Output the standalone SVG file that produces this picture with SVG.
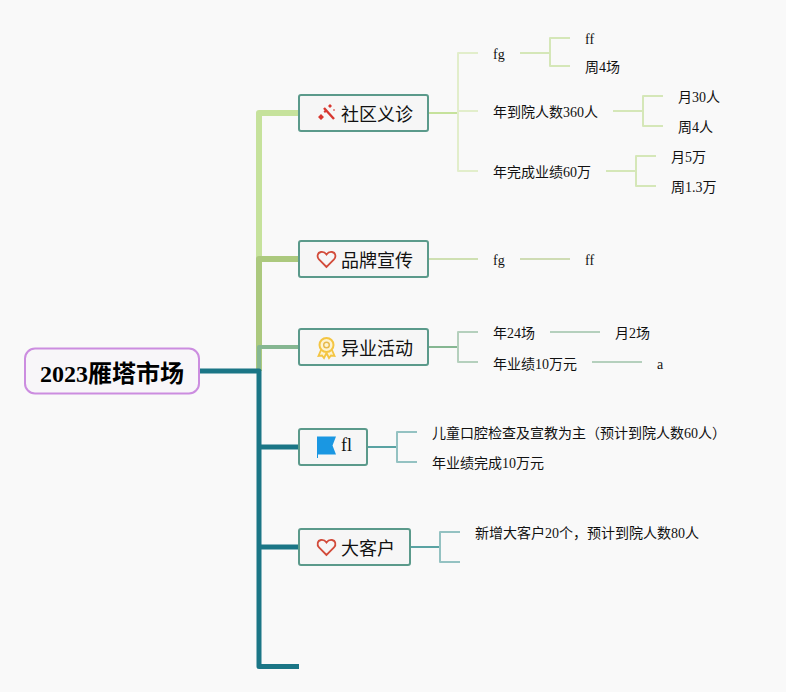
<svg xmlns="http://www.w3.org/2000/svg" width="786" height="692" viewBox="0 0 786 692">
<style>
text{font-family:"Liberation Serif","Noto Sans CJK SC",serif;fill:#111}
.t{font-size:14px}
.n{font-size:18px}
.r{font-size:24px;font-weight:bold;fill:#000}
.box{fill:#f6f6f6;stroke:#5b9a8b;stroke-width:2}
.c{fill:none;stroke-linejoin:round}
</style>
<rect width="786" height="692" fill="#f9f9f9"/>
<g id="connectors">
<path class="c" d="M259 371V113H298" stroke="#c6e29c" stroke-width="6"/>
<path class="c" d="M259 371V259H298" stroke="#acc97e" stroke-width="6"/>
<path class="c" d="M259 371V347H298" stroke="#86b792" stroke-width="4"/>
<path class="c" d="M199 371H259V666.500H299" stroke="#1b7686" stroke-width="5"/>
<path class="c" d="M259 447H298M259 547H298" stroke="#1b7686" stroke-width="5"/>
<path class="c" d="M428 113H458" stroke="#c6e29c" stroke-width="2"/>
<path class="c" d="M478 53H458V171H478M458 111H478" stroke="#e2eecb" stroke-width="2"/>
<path class="c" d="M520 53H550M570 38H550V66H570" stroke="#d5e7b8" stroke-width="2"/>
<path class="c" d="M613 111H643M663 96H643V126H663" stroke="#d5e7b8" stroke-width="2"/>
<path class="c" d="M606 171H636M656 156H636V186H656" stroke="#d5e7b8" stroke-width="2"/>
<path class="c" d="M428 259H478" stroke="#cfe0b2" stroke-width="2"/>
<path class="c" d="M520 259H570" stroke="#cfdcb4" stroke-width="2"/>
<path class="c" d="M428 347H458" stroke="#86b792" stroke-width="2"/>
<path class="c" d="M478 332H458V362H478" stroke="#b5d0bd" stroke-width="2"/>
<path class="c" d="M550 332H600M592 362H642" stroke="#b5d0bd" stroke-width="2"/>
<path class="c" d="M367 447H397" stroke="#5aa3a3" stroke-width="2"/>
<path class="c" d="M417 432H397V462H417" stroke="#94c2c2" stroke-width="2"/>
<path class="c" d="M410 547H440" stroke="#5aa3a3" stroke-width="2"/>
<path class="c" d="M460 532H440V562H460" stroke="#94c2c2" stroke-width="2"/>
</g>
<g id="root">
<rect x="25" y="348.500" width="174" height="45" rx="10" fill="#f8f6f9" stroke="#cc8de0" stroke-width="2"/>
<text class="r" x="40" y="382">2023雁塔市场</text>
</g>
<g id="node-1">
<rect class="box" x="299" y="95" width="129" height="36" rx="2"/>
<path d="M324 108L334 119" stroke="#d8372f" stroke-width="2.400" fill="none"/>
<path fill="#d8372f" d="M330 104l2 2-2 2-2-2zM325 110l1.500 1.500-1.500 1.500-1.500-1.500zM321 114l3 3-3 3-3-3zM334 109l1 1-1 1-1-1z"/>
<text class="n" x="341" y="121">社区义诊</text>
</g>
<g id="node-2">
<rect class="box" x="299" y="241" width="129" height="36" rx="2"/>
<path d="M326.500 267l-7.500-7.500c-2.500-2.800-1.500-7 2-7.500 2.300-.3 4.200.6 5.500 2.500 1.300-1.900 3.200-2.800 5.500-2.500 3.500.5 4.500 4.700 2 7.500z" fill="none" stroke="#d24b3a" stroke-width="1.800"/>
<text class="n" x="341" y="267">品牌宣传</text>
</g>
<g id="node-3">
<rect class="box" x="299" y="329" width="129" height="36" rx="2"/>
<path d="M321 350l-2.500 6 3.500-.5 2 2.500 2.500-5M332 350l2.500 6-3.500-.5-2 2.500-2.500-5" fill="#fdf3d0" stroke="#f4c542" stroke-width="1.800"/>
<circle cx="326.500" cy="345" r="7" fill="#fdf3d0" stroke="#f4c542" stroke-width="2"/>
<circle cx="326.500" cy="345" r="2.800" fill="none" stroke="#e6b84a" stroke-width="1.400"/>
<text class="n" x="341" y="355">异业活动</text>
</g>
<g id="node-4">
<rect class="box" x="299" y="429" width="68" height="36" rx="2"/>
<path d="M317 436.500H336L332.500 445.500L336 454.500H318V458H317z" fill="#1a97e2"/>
<text class="n" x="341" y="451">fl</text>
</g>
<g id="node-5">
<rect class="box" x="299" y="529" width="111" height="36" rx="2"/>
<path d="M326.500 555l-7.500-7.500c-2.500-2.800-1.500-7 2-7.500 2.300-.3 4.200.6 5.500 2.500 1.300-1.900 3.200-2.800 5.500-2.500 3.500.5 4.500 4.700 2 7.500z" fill="none" stroke="#d24b3a" stroke-width="1.800"/>
<text class="n" x="341" y="555">大客户</text>
</g>
<g id="labels">
<text class="t" x="493" y="59">fg</text>
<text class="t" x="585" y="44">ff</text>
<text class="t" x="585" y="72">周4场</text>
<text class="t" x="493" y="117">年到院人数360人</text>
<text class="t" x="678" y="102">月30人</text>
<text class="t" x="678" y="132">周4人</text>
<text class="t" x="493" y="177">年完成业绩60万</text>
<text class="t" x="671" y="162">月5万</text>
<text class="t" x="671" y="192">周1.3万</text>
<text class="t" x="493" y="265">fg</text>
<text class="t" x="585" y="265">ff</text>
<text class="t" x="493" y="338">年24场</text>
<text class="t" x="615" y="338">月2场</text>
<text class="t" x="493" y="369">年业绩10万元</text>
<text class="t" x="657" y="369">a</text>
<text class="t" x="432" y="438">儿童口腔检查及宣教为主（预计到院人数60人）</text>
<text class="t" x="432" y="468">年业绩完成10万元</text>
<text class="t" x="475" y="538">新增大客户20个，预计到院人数80人</text>
</g>
</svg>
